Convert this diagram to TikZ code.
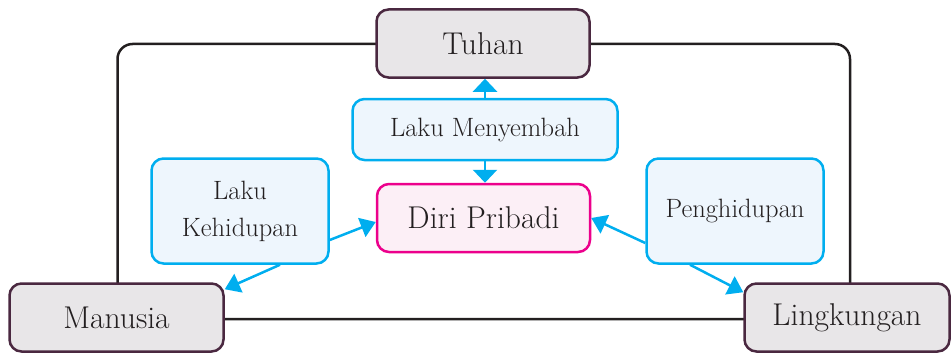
\documentclass[tikz,border=0pt]{standalone}
\usepackage{fontspec}
\usetikzlibrary{arrows.meta}
\definecolor{ink}{HTML}{231F20}
\definecolor{plum}{HTML}{4A2840}
\definecolor{graybox}{HTML}{E8E6E8}
\definecolor{cyanline}{HTML}{00AEEF}
\definecolor{cyanfill}{HTML}{EEF6FD}
\definecolor{pinkline}{HTML}{EC008C}
\definecolor{pinkfill}{HTML}{FCEFF6}
\tikzset{
  mainbox/.style={draw=plum, fill=graybox, line width=2.5pt, rounded corners=12pt, text=ink,
    font=\fontsize{31.5}{36}\selectfont, minimum height=68pt, inner sep=0pt},
  bluebox/.style={draw=cyanline, fill=cyanfill, line width=2.5pt, rounded corners=12pt, text=ink,
    font=\fontsize{26.5}{37}\selectfont, align=center, inner sep=0pt},
  pinkbox/.style={draw=pinkline, fill=pinkfill, line width=2.5pt, rounded corners=12pt, text=ink,
    font=\fontsize{31.5}{36}\selectfont, minimum height=68pt, minimum width=213pt, inner sep=0pt},
  frameline/.style={draw=ink, line width=2.5pt, rounded corners=15pt},
  conn/.style={draw=cyanline, line width=2.5pt, -{Triangle[width=24pt,length=13pt]}},
  connd/.style={draw=cyanline, line width=2.5pt, -{Triangle[width=20pt,length=15pt]}}
}
\begin{document}
\begin{tikzpicture}[x=1pt,y=-1pt]
\useasboundingbox (0,0) rectangle (952,353);
\draw[frameline] (117.5,44) rectangle (850,319);
\node[mainbox, minimum width=213pt] (tuhan) at (483,43.5) {Tuhan};
\node[bluebox, minimum width=265pt, minimum height=61pt] (menyembah) at (485,129.5) {Laku Menyembah};
\node[pinkbox] (diri) at (483.5,218) {Diri Pribadi};
\node[bluebox, minimum width=177pt, minimum height=105pt] (kehidupan) at (240,211) {Laku\\Kehidupan};
\node[bluebox, minimum width=177pt, minimum height=105pt] (penghidupan) at (735,211) {Penghidupan};
\node[mainbox, minimum width=214pt] (manusia) at (116.5,317.5) {Manusia};
\node[mainbox, minimum width=205pt] (lingkungan) at (847,317.5) {Lingkungan};
\draw[conn] (menyembah.north) -- (menyembah.north |- tuhan.south);
\draw[conn] (menyembah.south) -- (menyembah.south |- diri.north);
\draw[connd] ([yshift=-29pt]kehidupan.east) -- ([yshift=-4pt]diri.west);
\draw[connd] ([xshift=40pt]kehidupan.south) -- ([yshift=-7pt]manusia.north east);
\draw[connd] ([yshift=-32pt]penghidupan.west) -- (diri.east);
\draw[connd] ([xshift=-45pt]penghidupan.south) -- ([yshift=-10pt]lingkungan.north west);
\end{tikzpicture}
\end{document}
